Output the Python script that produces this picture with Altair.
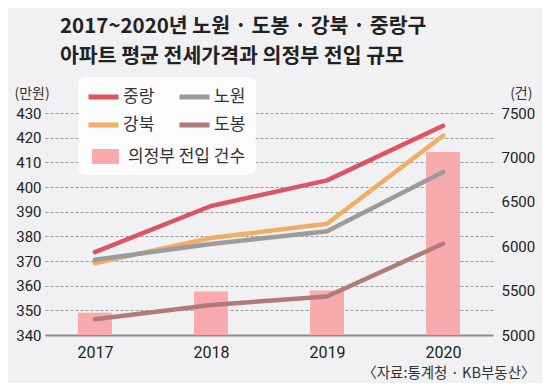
import altair as alt
import pandas as pd

years = ["2017", "2018", "2019", "2020"]
jungnang = [373.6, 392.3, 402.7, 424.8]
nowon = [370.5, 376.9, 382.1, 406.1]
gangbuk = [369.1, 379.3, 385.1, 420.8]
dobong = [346.4, 352.2, 355.6, 377.0]
moves = [5250, 5490, 5500, 7060]

# legend is filled column by column: 중랑, 강북 | 노원, 도봉
series_names = ["중랑", "강북", "노원", "도봉"]
line_colors = ["#dc5661", "#f0ad63", "#9b9b9e", "#b27b79"]
bar_name = "의정부 전입 건수"
bar_color = "#f8aaac"
left_ticks = list(range(340, 431, 10))
right_ticks = list(range(5000, 7501, 500))

title_lines = ["2017~2020년 노원 · 도봉 · 강북 · 중랑구", "아파트 평균 전세가격과 의정부 전입 규모"]
source_text = "〈자료:통계청 · KB부동산〉"

series_values = {"중랑": jungnang, "노원": nowon, "강북": gangbuk, "도봉": dobong}
rows = []
for name in series_names:
    for yr, v in zip(years, series_values[name]):
        rows.append({"year": yr, "series": name, "price": v})
lines_df = pd.DataFrame(rows)
bars_df = pd.DataFrame({"year": years, "series": [bar_name] * len(years), "moves": moves})

KR = "Noto Sans CJK KR"
NUM = "Roboto"

x_enc = alt.X(
    "year:O",
    scale=alt.Scale(type="point", padding=0.43),
    axis=alt.Axis(
        title=source_text, titleFont=KR, titleFontSize=14.5, titleFontWeight="normal",
        titleColor="#333", titleX=490, titleY=38, titleAlign="right", titleBaseline="middle",
        labelFont=NUM, labelFontSize=16, labelColor="#222", labelPadding=9, labelAngle=0,
        ticks=False, domainColor="#8c8c8c", domainWidth=2, grid=False,
    ),
)

common_legend = dict(
    orient="none", fillColor="#fcfcfc", cornerRadius=8, padding=10,
    labelFont=KR, labelFontSize=17, labelColor="#333",
    symbolSize=225, title=None, legendX=33,
)

line_legend = alt.Legend(
    legendY=-36, columns=2, columnPadding=14, rowPadding=8,
    symbolType="M-1,0H3", symbolStrokeWidth=5, symbolOffset=-2, labelOffset=17,
    **common_legend,
)
bar_legend = alt.Legend(
    legendY=25,
    symbolType="M-0.73,-1H2.87V1H-0.73Z", symbolStrokeWidth=0, symbolOffset=1, labelOffset=22,
    **common_legend,
)

bars = alt.Chart(bars_df).mark_bar(size=34).encode(
    x=x_enc,
    y=alt.Y(
        "moves:Q",
        scale=alt.Scale(domain=[5000, 7500], zero=False, nice=False),
        axis=alt.Axis(
            orient="right", values=right_ticks, format="d", grid=False, ticks=False, domain=False,
            labelFont=NUM, labelFontSize=15, labelColor="#222", labelPadding=8,
            title="(건)", titleFont=KR, titleFontSize=14, titleFontWeight="normal",
            titleColor="#333", titleAngle=0, titleX=39, titleY=-20,
            titleAlign="right", titleBaseline="middle",
        ),
    ),
    y2=alt.datum(5000),
    fill=alt.Fill("series:N", scale=alt.Scale(domain=[bar_name], range=[bar_color]), legend=bar_legend),
)

lines = alt.Chart(lines_df).mark_line(strokeWidth=4.5, strokeCap="round", strokeJoin="round").encode(
    x=x_enc,
    y=alt.Y(
        "price:Q",
        scale=alt.Scale(domain=[340, 430], zero=False, nice=False),
        axis=alt.Axis(
            orient="left", values=left_ticks, grid=True, gridDash=[3, 2], gridColor="#9a9a9a",
            gridWidth=1, ticks=False, domain=False,
            labelFont=NUM, labelFontSize=15, labelColor="#222", labelPadding=4,
            title="(만원)", titleFont=KR, titleFontSize=14, titleFontWeight="normal",
            titleColor="#333", titleAngle=0, titleX=-31, titleY=-20,
            titleAlign="left", titleBaseline="middle",
        ),
    ),
    stroke=alt.Stroke("series:N", scale=alt.Scale(domain=series_names, range=line_colors), legend=line_legend),
    order=alt.Order("year:O"),
)

chart = (
    alt.layer(bars, lines)
    .resolve_scale(y="independent")
    .properties(
        width=448, height=222,
        autosize=alt.AutoSizeParams(type="none"),
        padding={"left": 37, "top": 105, "right": 49, "bottom": 48},
        background="#f1f1f3",
        title=alt.TitleParams(
            text=title_lines, anchor="start", frame="group", dx=15, dy=10, offset=0,
            baseline="bottom", font=KR, fontSize=20.5, fontWeight="bold", color="#222",
            lineHeight=30,
        ),
    )
    .configure_view(strokeWidth=0)
)

chart.save("out.html", embed_options={"renderer": "svg", "actions": False})
